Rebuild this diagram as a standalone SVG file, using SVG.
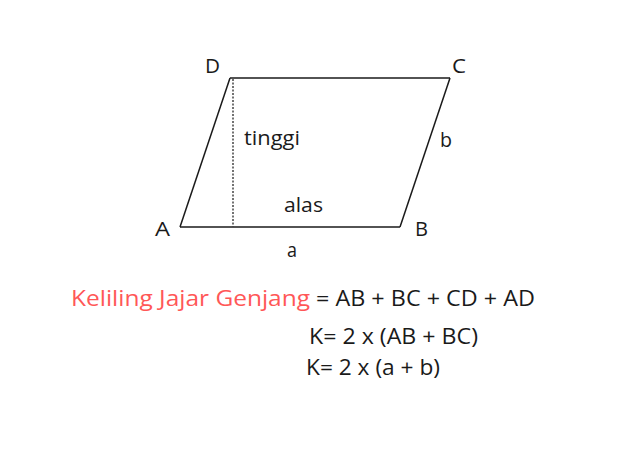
<svg xmlns="http://www.w3.org/2000/svg" width="633" height="458" viewBox="0 0 633 458">
<style>
text{font-family:"Open Sans","Noto Sans",sans-serif;fill:#1a1a1a}
.lbl{font-size:20.5px}
.f{font-size:22px}
.red{fill:#ff5757}
.edge{stroke:#1a1a1a;stroke-width:1.5;fill:none}
</style>
<rect width="633" height="458" fill="#fff"/>
<g id="connectors">
<line class="edge" x1="180" y1="227" x2="230" y2="78"/>
<line class="edge" x1="230" y1="78" x2="450" y2="78" stroke="#666" stroke-width="1.8"/>
<line class="edge" x1="450" y1="78" x2="400" y2="227"/>
<line class="edge" x1="400" y1="227" x2="180" y2="227" stroke="#999" stroke-width="2"/>
<line x1="233" y1="79" x2="233" y2="227" stroke="#444" stroke-width="1.5" stroke-dasharray="2,1.5"/>
</g>
<g id="A"><text class="lbl" x="155" y="236" textLength="15" lengthAdjust="spacingAndGlyphs">A</text></g>
<g id="B"><text class="lbl" x="415" y="236" textLength="13" lengthAdjust="spacingAndGlyphs">B</text></g>
<g id="C"><text class="lbl" x="452" y="73" textLength="14" lengthAdjust="spacingAndGlyphs">C</text></g>
<g id="D"><text class="lbl" x="205" y="73" textLength="15" lengthAdjust="spacingAndGlyphs">D</text></g>
<g id="labels">
<text class="lbl" x="244" y="145" textLength="56" lengthAdjust="spacingAndGlyphs">tinggi</text>
<text class="lbl" x="284" y="212" textLength="39" lengthAdjust="spacingAndGlyphs">alas</text>
<text class="lbl" x="287" y="257" textLength="10" lengthAdjust="spacingAndGlyphs">a</text>
<text class="lbl" x="440" y="147" textLength="12" lengthAdjust="spacingAndGlyphs">b</text>
</g>
<g id="formula">
<text class="f red" x="71" y="306" textLength="239" lengthAdjust="spacingAndGlyphs">Keliling Jajar Genjang</text>
<text class="f" x="316" y="306" textLength="219" lengthAdjust="spacingAndGlyphs">= AB + BC + CD + AD</text>
<text class="f" x="309" y="344" textLength="169" lengthAdjust="spacingAndGlyphs">K= 2 x (AB + BC)</text>
<text class="f" x="306" y="375" textLength="134" lengthAdjust="spacingAndGlyphs">K= 2 x (a + b)</text>
</g>
</svg>
